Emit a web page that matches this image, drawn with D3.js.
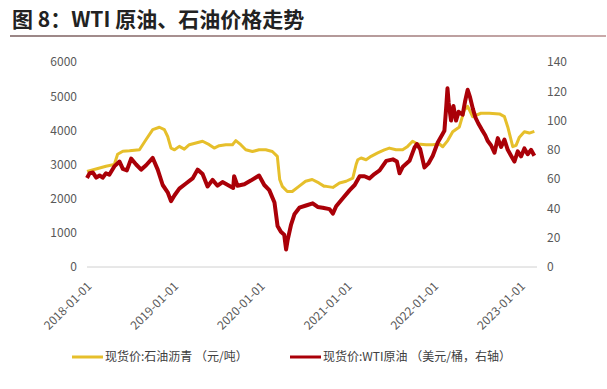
<!DOCTYPE html>
<html>
<head>
<meta charset="utf-8">
<script src="https://cdn.jsdelivr.net/npm/d3@7"></script>
<style>
  body { margin: 0; background: #fff; }
  text { font-family: "Noto Sans CJK SC", "Noto Sans", sans-serif; }
</style>
</head>
<body>
<script>
// asphalt spot price (yuan/ton), left axis
const asphaltDates = ["2018-01-01","2018-02-08","2018-03-22","2018-04-26","2018-05-10","2018-06-01","2018-06-29","2018-08-10","2018-09-07","2018-10-05","2018-11-02","2018-11-23","2018-12-07","2018-12-21","2019-01-05","2019-01-25","2019-02-15","2019-03-08","2019-04-05","2019-05-03","2019-05-31","2019-06-21","2019-07-12","2019-08-09","2019-09-06","2019-09-20","2019-10-11","2019-11-01","2019-11-29","2019-12-27","2020-01-24","2020-02-21","2020-03-13","2020-03-23","2020-04-03","2020-04-24","2020-05-15","2020-06-12","2020-07-10","2020-08-07","2020-09-04","2020-09-27","2020-10-05","2020-11-02","2020-11-30","2020-12-28","2021-01-25","2021-02-08","2021-02-15","2021-03-01","2021-03-22","2021-04-12","2021-05-10","2021-06-07","2021-06-28","2021-07-26","2021-08-23","2021-09-13","2021-10-04","2021-10-25","2021-11-30","2021-12-28","2022-01-25","2022-02-08","2022-03-01","2022-03-22","2022-04-19","2022-05-10","2022-05-24","2022-06-14","2022-07-19","2022-08-23","2022-10-05","2022-10-26","2022-11-09","2022-11-30","2022-12-14","2022-12-28","2023-01-18","2023-02-08","2023-03-01"];
const asphaltValues = [2800,2870,2950,3000,3300,3390,3400,3430,3730,4020,4090,4020,3820,3480,3430,3530,3450,3580,3630,3680,3580,3480,3550,3580,3580,3700,3580,3430,3380,3430,3430,3380,3240,2560,2360,2210,2210,2360,2510,2560,2460,2360,2360,2330,2460,2510,2600,3000,3140,3190,3140,3240,3340,3430,3480,3430,3430,3530,3680,3600,3580,3580,3600,3520,3700,3960,4100,4600,4700,4400,4500,4500,4480,4400,4100,3520,3560,3800,3960,3920,3970];

// WTI spot price (USD/bbl), right axis
const wtiDates = ["2018-01-01","2018-01-12","2018-01-26","2018-02-09","2018-02-23","2018-03-08","2018-03-22","2018-04-05","2018-04-26","2018-05-18","2018-06-01","2018-06-18","2018-07-06","2018-07-27","2018-08-17","2018-09-07","2018-10-05","2018-10-26","2018-11-16","2018-12-07","2018-12-21","2019-01-05","2019-01-25","2019-02-22","2019-03-22","2019-04-12","2019-05-03","2019-05-24","2019-06-14","2019-07-05","2019-07-26","2019-08-23","2019-09-09","2019-09-13","2019-09-27","2019-10-26","2019-11-22","2019-12-27","2020-01-18","2020-02-08","2020-03-01","2020-03-14","2020-03-28","2020-04-11","2020-04-19","2020-04-25","2020-05-10","2020-05-24","2020-06-14","2020-07-12","2020-08-09","2020-08-30","2020-09-20","2020-10-19","2020-11-02","2020-11-16","2020-12-14","2021-01-12","2021-02-02","2021-02-23","2021-03-15","2021-04-05","2021-04-26","2021-05-18","2021-06-15","2021-07-13","2021-07-30","2021-08-10","2021-08-24","2021-09-21","2021-10-12","2021-10-22","2021-11-05","2021-11-23","2021-12-11","2021-12-28","2022-01-18","2022-02-08","2022-02-15","2022-02-23","2022-02-28","2022-03-05","2022-03-15","2022-03-25","2022-04-05","2022-04-16","2022-05-03","2022-05-13","2022-05-24","2022-06-03","2022-06-15","2022-06-26","2022-07-08","2022-07-22","2022-08-06","2022-08-17","2022-08-31","2022-09-14","2022-09-28","2022-10-12","2022-10-26","2022-11-09","2022-11-23","2022-12-07","2022-12-21","2023-01-04","2023-01-18","2023-02-01","2023-02-15","2023-03-01"];
const wtiValues = [60.8,64,64.5,61,62.5,61,64,63,68.7,72,67,66,74,70,66.5,69.5,74.5,66.5,56,51,45,49,53.5,57,60.5,66.5,63.5,55,59.5,55.5,58,55.5,54,62,55.5,56.5,59,62.5,56,52.5,44,28,24,22,12,18,29,36,40.5,42,43.5,41,40.5,39.5,36.5,41.5,47,52.5,56,62,62,60.5,63.5,66,72.5,73.5,72,64,68.5,72.5,81.5,84,80.5,68,71,76,85,91,93,110,122,112,100,110,100,106,104,113,121,116,108,102,98,94,90,86,83,78,88,82,87,80,76,72,79,75.5,81,77,80,76];

const leftTicks = [0,1000,2000,3000,4000,5000,6000];
const rightTicks = [0,20,40,60,80,100,120,140];
const xTicks = ["2018-01-01","2019-01-01","2020-01-01","2021-01-01","2022-01-01","2023-01-01"];

const titleText = "图 8：WTI 原油、石油价格走势";
const legendNames = ["现货价:石油沥青 （元/吨）", "现货价:WTI原油 （美元/桶，右轴）"];
const colors = ["#e6bf2b", "#aa0008"];

const width = 607, height = 389;
const parse = d3.timeParse("%Y-%m-%d");

const svg = d3.select("body").append("svg")
    .attr("width", width)
    .attr("height", height);

// title + underline
svg.append("text")
    .attr("x", 12)
    .attr("y", 27)
    .attr("font-size", "21px")
    .attr("font-weight", "bold")
    .attr("fill", "#222")
    .text(titleText);

const grad = svg.append("defs").append("linearGradient")
    .attr("id", "tl").attr("x1", "0").attr("x2", "1");
grad.append("stop").attr("offset", "0").attr("stop-color", "#9a8686");
grad.append("stop").attr("offset", "1").attr("stop-color", "#c9a9a9");
svg.append("rect")
    .attr("x", 10).attr("y", 35).attr("width", 596).attr("height", 2)
    .attr("fill", "url(#tl)");

const x = d3.scaleTime()
    .domain([parse("2018-01-01"), parse("2023-03-08")])
    .range([87, 536]);
const yL = d3.scaleLinear().domain([0, 6000]).range([267, 62]);
const yR = d3.scaleLinear().domain([0, 140]).range([267, 62]);

// baseline
svg.append("line")
    .attr("x1", 87).attr("x2", 537)
    .attr("y1", yL(0)).attr("y2", yL(0))
    .attr("stroke", "#d0d0d0").attr("stroke-width", 1);

// left axis
svg.append("g")
    .attr("transform", "translate(77,0)")
    .call(d3.axisLeft(yL).tickValues(leftTicks).tickSize(0).tickPadding(0).tickFormat(d3.format("d")))
    .call(g => g.select(".domain").remove())
    .selectAll("text")
    .attr("font-size", "12px")
    .attr("fill", "#595959");

// right axis
svg.append("g")
    .attr("transform", "translate(547,0)")
    .call(d3.axisRight(yR).tickValues(rightTicks).tickSize(0).tickPadding(0))
    .call(g => g.select(".domain").remove())
    .selectAll("text")
    .attr("font-size", "12px")
    .attr("fill", "#595959");

// bottom axis with rotated date labels
svg.append("g")
    .attr("transform", "translate(0," + yL(0) + ")")
    .call(d3.axisBottom(x).tickValues(xTicks.map(parse)).tickSize(0).tickFormat(d3.timeFormat("%Y-%m-%d")))
    .call(g => g.select(".domain").remove())
    .selectAll("text")
    .attr("font-size", "12px")
    .attr("fill", "#595959")
    .attr("text-anchor", "end")
    .attr("dy", "0")
    .attr("y", 0)
    .attr("transform", "translate(5,20) rotate(-45)");

// lines
const asphalt = asphaltDates.map((d, i) => ({ date: parse(d), value: asphaltValues[i] }));
const wti = wtiDates.map((d, i) => ({ date: parse(d), value: wtiValues[i] }));

svg.append("path")
    .datum(asphalt)
    .attr("fill", "none")
    .attr("stroke", colors[0])
    .attr("stroke-width", 3)
    .attr("stroke-linejoin", "round")
    .attr("d", d3.line().x(d => x(d.date)).y(d => yL(d.value)));

svg.append("path")
    .datum(wti)
    .attr("fill", "none")
    .attr("stroke", colors[1])
    .attr("stroke-width", 4)
    .attr("stroke-linejoin", "round")
    .attr("d", d3.line().x(d => x(d.date)).y(d => yR(d.value)));

// legend
const legendX = [72, 290];
const legend = svg.selectAll(".lg")
    .data(legendNames)
    .enter().append("g")
    .attr("class", "lg")
    .attr("transform", (d, i) => "translate(" + legendX[i] + ",357)");
legend.append("line")
    .attr("x1", 0).attr("x2", 31)
    .attr("stroke", (d, i) => colors[i])
    .attr("stroke-width", 3);
legend.append("text")
    .attr("x", 33)
    .attr("dy", "0.35em")
    .attr("font-size", "12px")
    .attr("fill", "#404040")
    .text(d => d);
</script>
</body>
</html>
